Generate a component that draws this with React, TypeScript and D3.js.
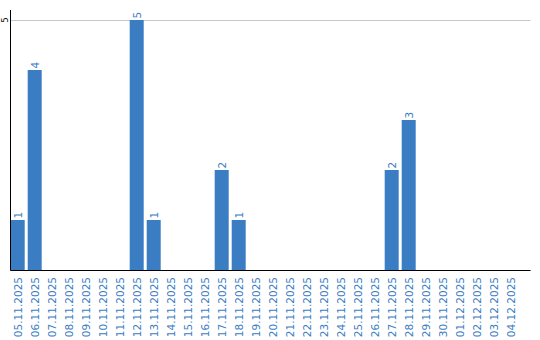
import React from "react";
import * as d3 from "d3";

const dates = [
  "05.11.2025","06.11.2025","07.11.2025","08.11.2025","09.11.2025","10.11.2025",
  "11.11.2025","12.11.2025","13.11.2025","14.11.2025","15.11.2025","16.11.2025",
  "17.11.2025","18.11.2025","19.11.2025","20.11.2025","21.11.2025","22.11.2025",
  "23.11.2025","24.11.2025","25.11.2025","26.11.2025","27.11.2025","28.11.2025",
  "29.11.2025","30.11.2025","01.12.2025","02.12.2025","03.12.2025","04.12.2025",
];
const counts = [1,4,0,0,0,0,0,5,1,0,0,0,2,1,0,0,0,0,0,0,0,0,2,3,0,0,0,0,0,0];
const yTicks = [5];

const W = 540, H = 340;
const BLUE = "#3b7dc3";
const FONT = "DejaVu Sans, Verdana, sans-serif";

export default function App() {
  const left = 10.5, right = 530.5, top = 10, bottom = 270.5;
  const x = d3.scaleBand<string>()
    .domain(dates)
    .range([left + 0.2, left + 0.2 + 510])
    .paddingInner(3 / 17)
    .paddingOuter(1.5 / 17)
    .align(0);
  const y = d3.scaleLinear().domain([0, 5]).range([270, 20]);

  return (
    <svg width={W} height={H} style={{ position: "absolute", left: 0, top: 0 }}>
      {yTicks.map((t) => (
        <g key={t}>
          <line x1={left} x2={right} y1={Math.round(y(t)) + 0.5} y2={Math.round(y(t)) + 0.5} stroke="#c8c8c8" strokeWidth={1} />
          <text
            transform={`translate(${7.8},${y(t)}) rotate(-90)`}
            textAnchor="middle"
            fontFamily={FONT}
            fontSize={8.5}
            fill="#000"
          >
            {t}
          </text>
        </g>
      ))}
      {dates.map((d, i) => {
        const v = counts[i];
        const bx = x(d)!;
        const bw = x.bandwidth();
        const cx = bx + bw / 2;
        return (
          <g key={d}>
            {v > 0 && (
              <rect x={bx} y={y(v)} width={bw} height={y(0) - y(v)} fill={BLUE} />
            )}
            {v > 0 && (
              <text
                transform={`translate(${cx + 3.8},${y(v) - 1.5}) rotate(-90)`}
                textAnchor="start"
                fontFamily={FONT}
                fontSize={10.5}
                fill={BLUE}
              >
                {v}
              </text>
            )}
            <text
              transform={`translate(${cx + 3.8},${277}) rotate(-90)`}
              textAnchor="end"
              fontFamily={FONT}
              fontSize={10.5}
              fill={BLUE}
            >
              {d}
            </text>
          </g>
        );
      })}
      <line x1={left} x2={left} y1={top} y2={bottom} stroke="#000" strokeWidth={1} />
      <line x1={left} x2={right} y1={bottom} y2={bottom} stroke="#000" strokeWidth={1} />
    </svg>
  );
}
